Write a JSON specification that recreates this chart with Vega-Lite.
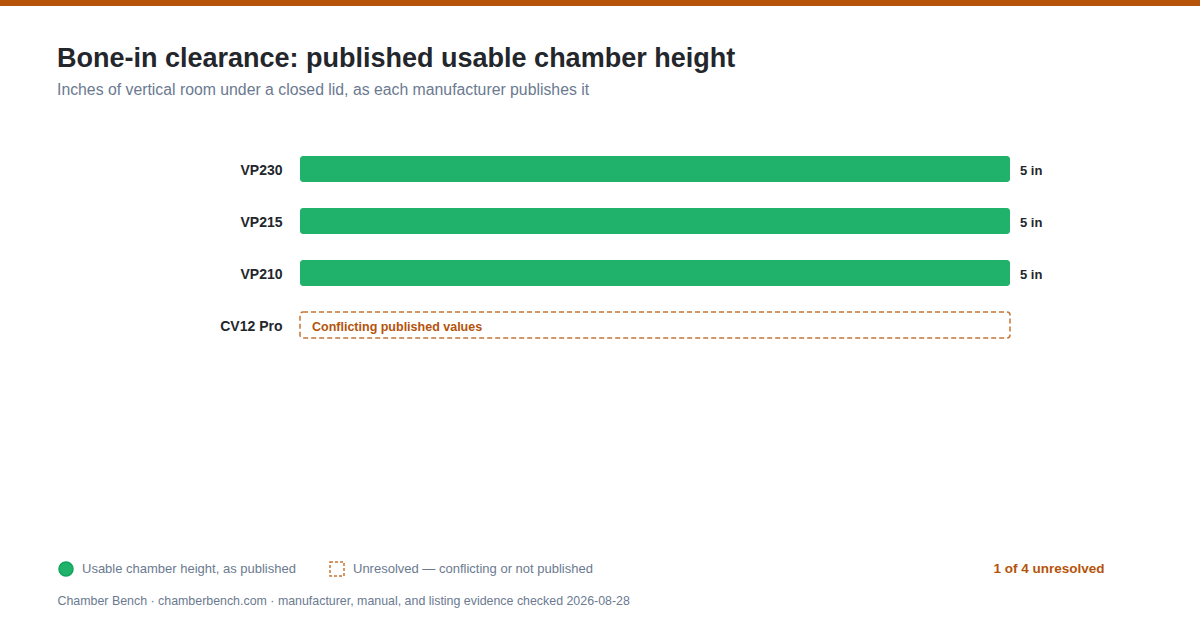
{
  "$schema": "https://vega.github.io/schema/vega-lite/v6.json",
  "autosize": "none",
  "width": 1200,
  "height": 624,
  "padding": {"top": 6, "left": 0, "right": 0, "bottom": 0},
  "background": "#b5530b",
  "title": {
    "text": "Bone-in clearance: published usable chamber height",
    "subtitle": "Inches of vertical room under a closed lid, as each manufacturer publishes it",
    "anchor": "start",
    "frame": "group",
    "dx": 57,
    "offset": -93,
    "fontSize": 27,
    "fontWeight": "bold",
    "color": "#23262b",
    "subtitleFontSize": 15.8,
    "subtitleColor": "#6b7a90",
    "subtitlePadding": 10
  },
  "data": {
    "values": [
      {"model": "VP230", "height": 5, "label": "5 in", "status": "published", "note": null},
      {"model": "VP215", "height": 5, "label": "5 in", "status": "published", "note": null},
      {"model": "VP210", "height": 5, "label": "5 in", "status": "published", "note": null},
      {"model": "CV12 Pro", "height": null, "label": null, "status": "unresolved", "note": "Conflicting published values"}
    ]
  },
  "encoding": {
    "y": {
      "field": "model",
      "type": "nominal",
      "sort": ["VP230", "VP215", "VP210", "CV12 Pro"],
      "scale": {"range": [137, 345], "paddingInner": 0.5, "paddingOuter": 0.25},
      "axis": {
        "offset": -282,
        "ticks": false,
        "domain": false,
        "grid": false,
        "labelPadding": 0,
        "labelOffset": 2,
        "labelFontSize": 14,
        "labelFontWeight": "bold",
        "labelColor": "#23262b",
        "title": "1 of 4 unresolved",
        "titleAngle": 0,
        "titleX": 822,
        "titleY": 566,
        "titleAlign": "right",
        "titleBaseline": "alphabetic",
        "titleFontSize": 13.5,
        "titleFontWeight": "bold",
        "titleColor": "#b5530b"
      }
    }
  },
  "layer": [
    {
      "transform": [{"filter": "datum.status === 'published'"}],
      "mark": {"type": "bar", "cornerRadius": 3},
      "encoding": {
        "x": {
          "field": "height",
          "type": "quantitative",
          "scale": {"domain": [0, 5], "range": [300, 1010], "nice": false, "zero": true},
          "axis": {
            "labels": false,
            "ticks": false,
            "domain": false,
            "grid": false,
            "title": "Chamber Bench · chamberbench.com · manufacturer, manual, and listing evidence checked 2026-08-28",
            "titleX": 57,
            "titleY": -26,
            "titleAlign": "left",
            "titleAnchor": "start",
            "titleBaseline": "alphabetic",
            "titleFontSize": 12.4,
            "titleFontWeight": "normal",
            "titleColor": "#6b7a90"
          }
        },
        "color": {
          "field": "status",
          "type": "nominal",
          "scale": {"domain": ["published", "unresolved"], "range": ["#20b26b", "transparent"]},
          "legend": {
            "title": null,
            "orient": "none",
            "direction": "horizontal",
            "legendX": 58,
            "legendY": 555,
            "padding": 0,
            "columnPadding": 31,
            "labelFontSize": 13,
            "labelColor": "#6b7a90",
            "labelOffset": 8,
            "labelLimit": 0,
            "symbolSize": 196,
            "labelExpr": "datum.value === 'published' ? 'Usable chamber height, as published' : 'Unresolved — conflicting or not published'",
            "encode": {
              "symbols": {
                "update": {
                  "shape": {"signal": "datum.value === 'published' ? 'circle' : 'square'"},
                  "fill": {"signal": "datum.value === 'published' ? '#0ea55a' : 'transparent'"},
                  "stroke": {"signal": "datum.value === 'published' ? '#0ea55a' : '#c87533'"},
                  "strokeDash": {"signal": "datum.value === 'published' ? [] : [3, 2]"},
                  "strokeWidth": {"value": 1.5},
                  "opacity": {"value": 1},
                  "fillOpacity": {"value": 1}
                }
              }
            }
          }
        }
      }
    },
    {
      "transform": [{"filter": "datum.status === 'published'"}],
      "mark": {"type": "text", "align": "left", "baseline": "middle", "dx": 10, "dy": 2, "fontSize": 13, "fontWeight": "bold", "color": "#23262b"},
      "encoding": {
        "x": {"field": "height", "type": "quantitative"},
        "text": {"field": "label"}
      }
    },
    {
      "transform": [{"filter": "datum.status === 'unresolved'"}],
      "mark": {"type": "bar", "cornerRadius": 3, "fill": "transparent", "stroke": "#c87533", "strokeWidth": 1.5, "strokeDash": [5, 3]},
      "encoding": {
        "x": {"datum": 0, "type": "quantitative"},
        "x2": {"datum": 5}
      }
    },
    {
      "transform": [{"filter": "datum.status === 'unresolved'"}],
      "mark": {"type": "text", "align": "left", "baseline": "middle", "dx": 12, "dy": 2, "fontSize": 12.5, "fontWeight": "bold", "color": "#b5530b"},
      "encoding": {
        "x": {"datum": 0, "type": "quantitative"},
        "text": {"field": "note"}
      }
    }
  ],
  "config": {
    "font": "Liberation Sans",
    "view": {"fill": "white", "stroke": null}
  }
}
